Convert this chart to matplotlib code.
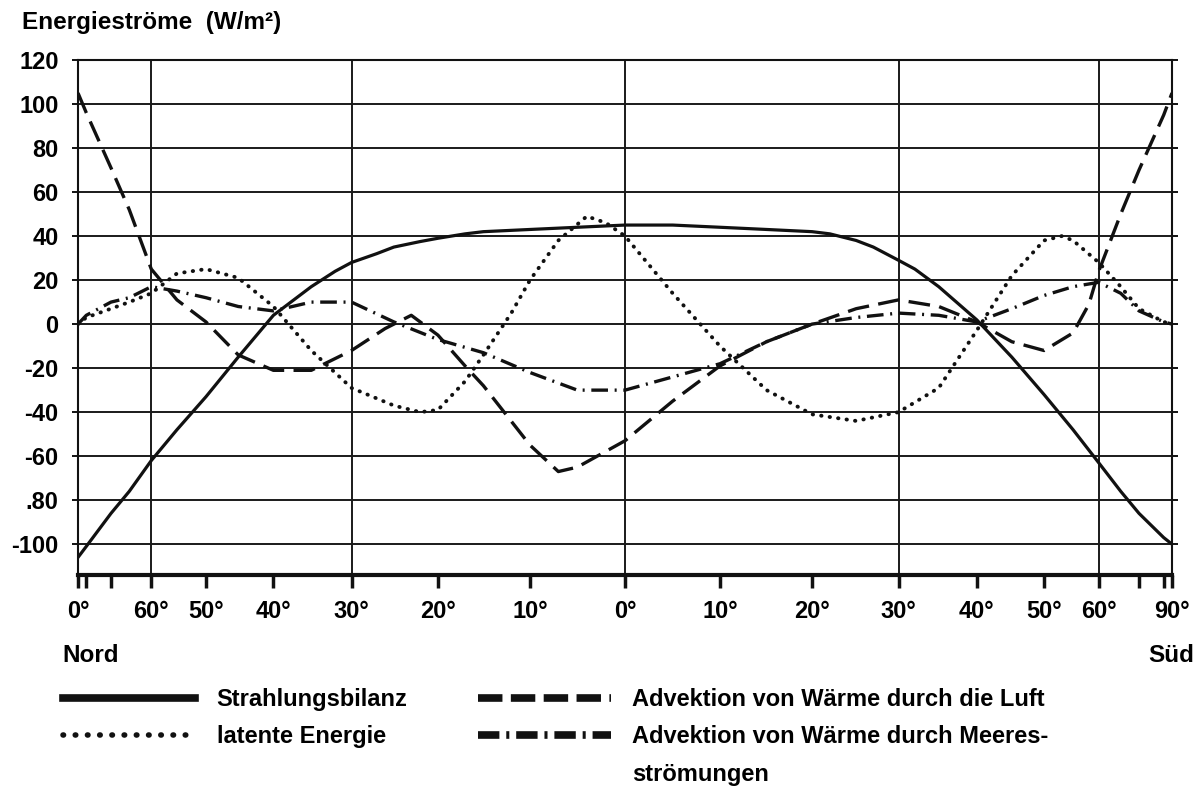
import numpy as np
import matplotlib
matplotlib.use('Agg')
import matplotlib.pyplot as plt
from matplotlib.lines import Line2D

# Breite: Nord negativ (links), Sued positiv (rechts)
breite_strahlung = [-90, -80, -70, -65, -60, -55, -50, -45, -40, -35, -32, -30, -27, -25, -22, -20, -17, -15, -10, -5, 0,
                    5, 10, 15, 20, 22, 25, 27, 30, 32, 35, 40, 45, 50, 55, 60, 65, 70, 80, 90]
strahlung = [-106, -101, -86, -76, -62, -48, -33, -15, 4, 17, 24, 28, 32, 35, 37.5, 39, 41, 42, 43, 44, 45,
             45, 44, 43, 42, 41, 38, 35, 29, 25, 17, 2, -15, -32, -48, -63, -76, -86, -97, -100]

breite_luft = [-90, -80, -70, -65, -60, -55, -50, -45, -40, -35, -30, -26, -23, -20, -17, -15, -10, -7, -5, 0,
               5, 10, 15, 20, 25, 30, 35, 40, 45, 50, 55, 58, 60, 65, 70, 80, 90]
luft = [105, 96, 71, 52, 25, 11, 1, -14, -21, -21, -12, -2, 4, -5, -19, -28, -55, -67, -65, -53,
        -35, -19, -8, 0, 7, 11, 8, 1, -8, -12, -4, 9, 24, 50, 70, 95, 105]

breite_latent = [-90, -80, -70, -65, -60, -55, -50, -45, -40, -35, -30, -25, -22, -20, -17, -15, -12, -10, -7, -4, -2, 0,
                 5, 10, 15, 20, 25, 30, 35, 40, 45, 50, 53, 55, 60, 65, 70, 80, 90]
latent = [0, 3, 7, 10, 14, 23, 25, 21, 8, -12, -29, -37, -40, -39, -26, -14, 5, 20, 38, 49, 46, 40,
          14, -10, -30, -41, -44, -40, -29, -3, 22, 38, 40, 38, 28, 17, 7, 1, 0]

breite_meer = [-90, -80, -70, -65, -60, -55, -50, -45, -40, -35, -30, -25, -20, -15, -10, -5, 0,
               5, 10, 15, 20, 25, 30, 35, 40, 45, 50, 55, 60, 65, 70, 80, 90]
meer = [0, 4, 10, 12, 17, 15, 12, 8, 6, 10, 10, 1, -7, -13, -22, -30, -30,
        -24, -18, -8, 0, 3, 5, 4, 1, 7, 13, 17, 19, 14, 6, 1, 0]

x_ticks = [-90, -80, -70, -60, -50, -40, -30, -20, -10, 0, 10, 20, 30, 40, 50, 60, 70, 80, 90]
x_labels = ['0°', '', '', '60°', '50°', '40°', '30°', '20°', '10°', '0°',
            '10°', '20°', '30°', '40°', '50°', '60°', '', '', '90°']
y_ticks = [-100, -80, -60, -40, -20, 0, 20, 40, 60, 80, 100, 120]
y_labels = ['-100', '.80', '-60', '-40', '-20', '0', '20', '40', '60', '80', '100', '120']

namen = ['Strahlungsbilanz', 'latente Energie', '',
         'Advektion von Wärme durch die Luft', 'Advektion von Wärme durch Meeres-', 'strömungen']

plt.rcParams['font.family'] = ['Liberation Sans', 'DejaVu Sans']
plt.rcParams['font.weight'] = 'bold'

fig = plt.figure(figsize=(12.03, 7.87), dpi=100)
ax = fig.add_axes([78 / 1203, 1 - 575 / 787, (1172 - 78) / 1203, (575 - 60) / 787])


def fwd(x):
    return np.sin(np.deg2rad(x))


def inv(s):
    return np.rad2deg(np.arcsin(np.clip(s, -1, 1)))


ax.set_xscale('function', functions=(fwd, inv))
ax.set_xlim(-90, 90)
ax.set_ylim(-114, 120)

ax.yaxis.grid(True, color='#1a1a1a', lw=1.4)
for v in [-60, -30, 0, 30, 60]:
    ax.axvline(v, color='#1a1a1a', lw=1.4, zorder=1)

farbe = '#111111'
ax.plot(breite_strahlung, strahlung, color=farbe, lw=2.3, zorder=3)
ax.plot(breite_luft, luft, color=farbe, lw=2.4, dashes=(6.5, 2.8), zorder=3)
ax.plot(breite_latent, latent, color=farbe, lw=2.8, dashes=(0.1, 2.1),
        dash_capstyle='round', zorder=3)
ax.plot(breite_meer, meer, color=farbe, lw=2.4, dashes=(5, 2, 0.6, 2), zorder=3)

ax.set_xticks(x_ticks)
ax.set_xticklabels(x_labels, fontsize=17, fontweight='bold')
ax.set_yticks(y_ticks)
ax.set_yticklabels(y_labels, fontsize=17, fontweight='bold')
ax.xaxis.set_minor_locator(matplotlib.ticker.NullLocator())
ax.tick_params(axis='x', direction='out', length=9, width=2.5, pad=9, color=farbe)
ax.tick_params(axis='y', direction='out', length=4, width=1.4, pad=10,
               left=True, right=True, color=farbe)

for s in ['left', 'right', 'top']:
    ax.spines[s].set_linewidth(1.5)
    ax.spines[s].set_color(farbe)
ax.spines['bottom'].set_linewidth(3)
ax.spines['bottom'].set_color(farbe)

fig.text(22 / 1203, 1 - 22 / 787, 'Energieströme  (W/m²)', fontsize=17.5,
         fontweight='bold', va='center', ha='left')
fig.text(62 / 1203, 1 - 655 / 787, 'Nord', fontsize=17.5, fontweight='bold', va='center', ha='left')
fig.text(1194 / 1203, 1 - 655 / 787, 'Süd', fontsize=17.5, fontweight='bold', va='center', ha='right')

leer = Line2D([], [], color='none')
griffe = [
    Line2D([], [], color=farbe, lw=5.5),
    Line2D([], [], color=farbe, lw=4, dashes=(0.1, 2.1), dash_capstyle='round'),
    leer,
    Line2D([], [], color=farbe, lw=5.5, dashes=(3.2, 1.1)),
    Line2D([], [], color=farbe, lw=5.5, dashes=(2.8, 0.9, 0.4, 0.9)),
    leer,
]
fig.legend(griffe, namen, ncol=2, loc='upper left', bbox_to_anchor=(42 / 1203, 1 - 667 / 787),
           frameon=False, handlelength=5.6, handletextpad=0.9, columnspacing=3.0,
           labelspacing=0.6,
           prop={'family': ['Liberation Sans', 'DejaVu Sans'],
                 'weight': 'bold', 'size': 17})

fig.savefig('out.png', dpi=100, facecolor='white')
